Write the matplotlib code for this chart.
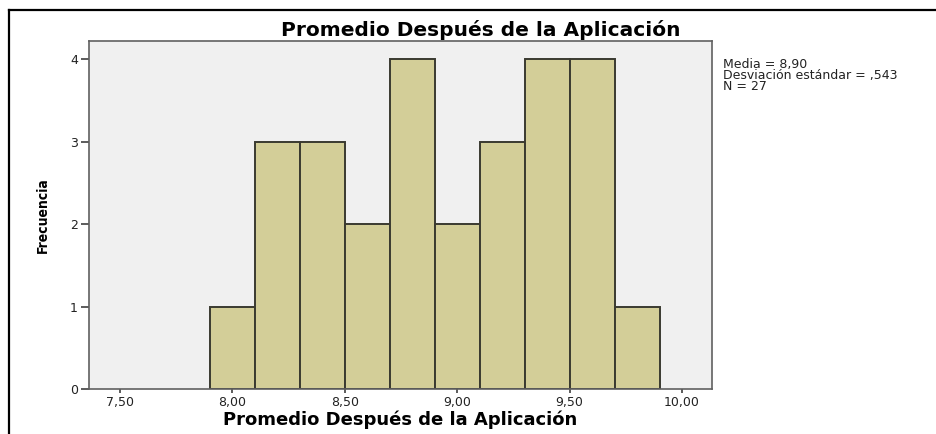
import matplotlib
matplotlib.use("Agg")
import matplotlib.pyplot as plt
from matplotlib.lines import Line2D

# Data
bin_edges = [7.9, 8.1, 8.3, 8.5, 8.7, 8.9, 9.1, 9.3, 9.5, 9.7, 9.9]
counts = [1, 3, 3, 2, 4, 2, 3, 4, 4, 1]
x_ticks = [7.5, 8.0, 8.5, 9.0, 9.5, 10.0]
x_ticklabels = ["7,50", "8,00", "8,50", "9,00", "9,50", "10,00"]
y_ticks = [0, 1, 2, 3, 4]
title = "Promedio Después de la Aplicación"
xlabel = "Promedio Después de la Aplicación"
ylabel = "Frecuencia"
stats_lines = ["Media = 8,90", "Desviación estándar = ,543", "N = 27"]

W, H = 936, 434
fig = plt.figure(figsize=(W / 100, H / 100), dpi=100)
fig.patch.set_facecolor("white")

ax = fig.add_axes([89 / W, 1 - 389 / H, (712 - 89) / W, (389 - 41) / H])
ax.set_facecolor("#F0F0F0")

lefts = bin_edges[:-1]
widths = [b - a for a, b in zip(bin_edges[:-1], bin_edges[1:])]
ax.bar(lefts, counts, width=widths, align="edge", color="#D3CE98",
       edgecolor="#3A3A30", linewidth=1.4)

ax.set_xlim(7.362, 10.133)
ax.set_ylim(0, 4.22)

ax.set_xticks(x_ticks)
ax.set_xticklabels(x_ticklabels)
ax.set_yticks(y_ticks)
ax.set_yticklabels([str(v) for v in y_ticks])

for s in ax.spines.values():
    s.set_color("#606060")
    s.set_linewidth(1.2)

ax.tick_params(axis="x", direction="out", length=3, width=1.2, color="#404040",
               labelsize=9, pad=2, labelcolor="#222222")
ax.tick_params(axis="y", direction="out", length=6, width=1.2, color="#404040",
               labelsize=9, pad=2, labelcolor="#222222")

ax.set_xlabel(xlabel, fontsize=13, fontweight="bold", family="DejaVu Sans", labelpad=1)
fig.text(43 / W, 1 - 215 / H, ylabel, rotation=90, ha="center", va="center",
         fontsize=10, fontweight="bold", fontstretch="condensed",
         family="DejaVu Sans")

fig.text(481 / W, 1 - 30 / H, title, ha="center", va="center",
         fontsize=14.5, fontweight="bold", family="DejaVu Sans")

fig.text(723 / W, 1 - 58 / H, "\n".join(stats_lines), ha="left", va="top",
         fontsize=9, linespacing=0.78, family="DejaVu Sans", color="#222222")

# outer frame
fig.add_artist(Line2D([9 / W, 1.0], [1 - 10 / H, 1 - 10 / H], color="black",
                      linewidth=1.6, transform=fig.transFigure))
fig.add_artist(Line2D([9 / W, 9 / W], [0.0, 1 - 10 / H], color="black",
                      linewidth=1.6, transform=fig.transFigure))

fig.savefig("out.png", dpi=100)
